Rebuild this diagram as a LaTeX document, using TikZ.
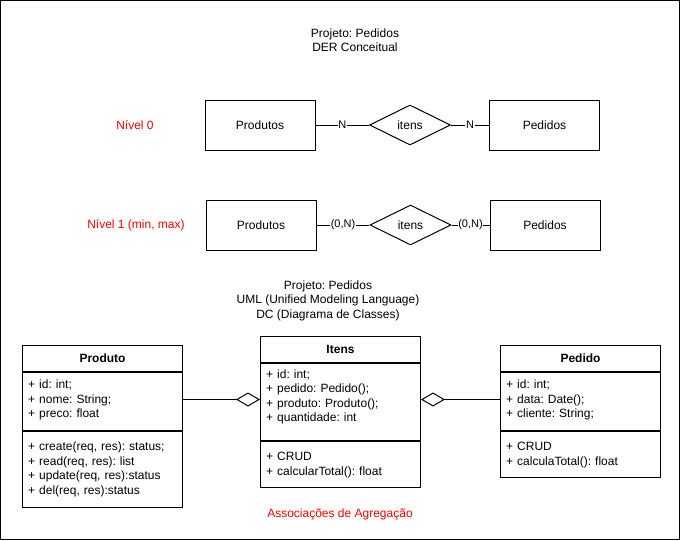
\documentclass[tikz,border=0pt]{standalone}
\usepackage{fontspec}
\setmainfont{Liberation Sans}
\usetikzlibrary{shapes.geometric,arrows.meta,calc}
\definecolor{redlabel}{RGB}{255,0,0}
\tikzset{
  txt/.style={font=\fontsize{12}{14.5}\selectfont\frenchspacing, inner sep=0pt},
  entity/.style={draw, line width=1pt, minimum width=110pt, minimum height=50pt, inner sep=0pt, font=\fontsize{12}{14}\selectfont},
  relation/.style={draw, shape=diamond, aspect=2, line width=1pt, minimum width=81pt, minimum height=40pt, inner sep=0pt, font=\fontsize{12}{14}\selectfont},
  card/.style={fill=white, inner sep=0.6pt, font=\fontsize{11}{13}\selectfont},
  redtxt/.style={txt, text=redlabel},
  umlbox/.style={draw, line width=1pt, minimum width=160pt, inner sep=0pt, anchor=north west},
  umltext/.style={txt, align=left, text width=150pt, anchor=base west},
  agg/.style={line width=1pt, -{Diamond[open, length=24pt, width=14pt]}},
  frame/.style={draw, line width=1.5pt}
}
\begin{document}
\begin{tikzpicture}[x=1pt, y=-1pt]
\useasboundingbox (0,0) rectangle (681,541);
\draw[frame] (0.5,0.5) rectangle (679.5,539.5);

% titles
\node[txt, align=center] (title1) at (355,40) {Projeto: Pedidos\\DER Conceitual};
\node[txt, align=center] (title2) at (328,300.5) {Projeto: Pedidos\\UML (Unified Modeling Language)\\DC (Diagrama de Classes)};

% Level 0
\node[redtxt] (nivel0) at (135,125) {Nível 0};
\node[entity] (produtos0) at (260,125) {Produtos};
\node[relation] (itens0) at (410,125) {itens};
\node[entity] (pedidos0) at (544.5,125) {Pedidos};
\draw[line width=1pt] (produtos0) -- node[card] {N} (itens0);
\draw[line width=1pt] (itens0) -- node[card] {N} (pedidos0);

% Level 1
\node[redtxt] (nivel1) at (136,225) {Nível 1 (min, max)};
\node[entity] (produtos1) at (261,225) {Produtos};
\node[relation] (itens1) at (410.5,225) {itens};
\node[entity] (pedidos1) at (545,225) {Pedidos};
\draw[line width=1pt] (produtos1) -- node[card] {(0,N)} (itens1);
\draw[line width=1pt] (itens1) -- node[card] {(0,N)} (pedidos1);

% Produto class
\node[umlbox, minimum height=26pt] (produtoHead) at (22,345) {};
\node[txt, font=\fontsize{12}{14}\selectfont\bfseries] (produtoName) at (produtoHead.center) {Produto};
\node[umlbox, minimum height=58pt] (produtoAttrBox) at (produtoHead.south west) {};
\node[umlbox, minimum height=76pt] (produtoMethBox) at (produtoAttrBox.south west) {};
\node[umltext] (produtoAttr) at (28,388.5) {+ id: int;\\+ nome: String;\\+ preco: float};
\node[umltext] (produtoMeth) at (28,450.5) {+ create(req, res): status;\\+ read(req, res): list\\+ update(req, res):status\\+ del(req, res):status};

% Itens class
\node[umlbox, minimum height=26pt] (itensHead) at (260,336) {};
\node[txt, font=\fontsize{12}{14}\selectfont\bfseries] (itensName) at (itensHead.center) {Itens};
\node[umlbox, minimum height=77pt] (itensAttrBox) at (itensHead.south west) {};
\node[umlbox, minimum height=46pt] (itensMethBox) at (itensAttrBox.south west) {};
\node[umltext] (itensAttr) at (266,378) {+ id: int;\\+ pedido: Pedido();\\+ produto: Produto();\\+ quantidade: int};
\node[umltext] (itensMeth) at (266,460.5) {+ CRUD\\+ calcularTotal(): float};

% Pedido class
\node[umlbox, minimum height=26pt] (pedidoHead) at (500,345) {};
\node[txt, font=\fontsize{12}{14}\selectfont\bfseries] (pedidoName) at (pedidoHead.center) {Pedido};
\node[umlbox, minimum height=58pt] (pedidoAttrBox) at (pedidoHead.south west) {};
\node[umlbox, minimum height=46pt] (pedidoMethBox) at (pedidoAttrBox.south west) {};
\node[umltext] (pedidoAttr) at (506,388.5) {+ id: int;\\+ data: Date();\\+ cliente: String;};
\node[umltext] (pedidoMeth) at (506,450.5) {+ CRUD\\+ calculaTotal(): float};

% aggregations
\draw[agg] ([yshift=2pt]produtoAttrBox.east) -- ([yshift=2pt]produtoAttrBox.east -| itensAttrBox.west);
\draw[agg] ([yshift=2pt]pedidoAttrBox.west) -- ([yshift=2pt]pedidoAttrBox.west -| itensAttrBox.east);

\node[redtxt] (assoc) at (340,514) {Associações de Agregação};
\end{tikzpicture}
\end{document}
